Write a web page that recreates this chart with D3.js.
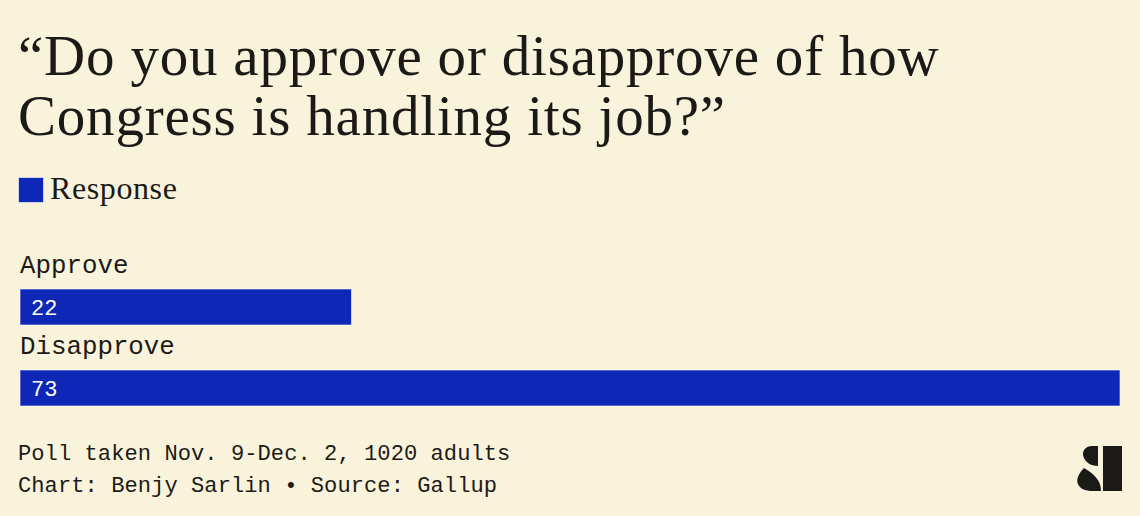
<!DOCTYPE html>
<html><head><meta charset="utf-8">
<script src="https://cdn.jsdelivr.net/npm/d3@7/dist/d3.min.js"></script>
<style>
html,body{margin:0;padding:0;background:#f8f3da;}
svg{display:block;}
</style></head>
<body>
<svg id="chart" width="1140" height="516"></svg>
<script>
const categories = ["Approve", "Disapprove"];
const values = [22, 73];
const titleLines = ["\u201CDo you approve or disapprove of how", "Congress is handling its job?\u201D"];
const legendLabel = "Response";
const footerLines = ["Poll taken Nov. 9-Dec. 2, 1020 adults", "Chart: Benjy Sarlin \u2022 Source: Gallup"];

const W = 1140, H = 516;
const bg = "#f8f3da", barColor = "#0e27b6", ink = "#1c1a17";
const svg = d3.select("#chart");
svg.append("rect").attr("width", W).attr("height", H).attr("fill", bg);

const serif = "'Liberation Serif','DejaVu Serif',serif";
const mono = "'Liberation Mono','DejaVu Sans Mono',monospace";

svg.append("g").selectAll("text").data(titleLines).join("text")
  .attr("x", 18).attr("y", (d, i) => 75 + i * 60)
  .attr("font-family", serif).attr("font-size", 57).attr("fill", ink)
  .attr("letter-spacing", 0.8)
  .text(d => d);

// legend
svg.append("rect").attr("x", 18.5).attr("y", 177.5).attr("width", 25).attr("height", 25)
  .attr("fill", barColor).attr("stroke", "#fff").attr("stroke-opacity", 0.6).attr("stroke-width", 1);
svg.append("text").attr("x", 50).attr("y", 199).attr("font-family", serif)
  .attr("font-size", 32).attr("letter-spacing", 0.6).attr("fill", ink).text(legendLabel);

const x = d3.scaleLinear().domain([0, d3.max(values)]).range([20, 1120]);
const rowY = d3.scaleBand().domain(categories).range([247, 409]).paddingInner(0).paddingOuter(0);
const barH = 36;

const rows = svg.append("g").selectAll("g").data(categories).join("g")
  .attr("transform", d => `translate(0,${rowY(d)})`);
rows.append("text").attr("x", 20).attr("y", 26)
  .attr("font-family", mono).attr("font-size", 25.8).attr("fill", ink)
  .text(d => d);
rows.append("rect").attr("x", x(0)).attr("y", 42)
  .attr("width", (d, i) => x(values[i]) - x(0)).attr("height", barH)
  .attr("fill", barColor).attr("stroke", "#ffffff").attr("stroke-opacity", 0.6).attr("stroke-width", 1);
rows.append("text").attr("x", 31).attr("y", 68)
  .attr("font-family", mono).attr("font-size", 22).attr("fill", "#ffffff")
  .text((d, i) => values[i]);

svg.append("g").selectAll("text").data(footerLines).join("text")
  .attr("x", 18).attr("y", (d, i) => 460 + i * 32)
  .attr("font-family", mono).attr("font-size", 22.1).attr("letter-spacing", 0.05).attr("fill", ink)
  .text(d => d);

// logo
const logo = svg.append("g").attr("fill", ink);
logo.append("path").attr("d",
  "M1103,446 L1122,446 L1122,491 L1103,491 Z");
logo.append("path").attr("d",
  "M1098,446 L1098,466 C1090,466 1086,462 1084,458 C1081,452 1085,446 1092,446 Z " +
  "M1101,491 C1101,480 1094,474 1084,468 C1078,474 1076,480 1078,484 C1080,489 1086,491 1092,491 Z");
</script>
</body></html>
